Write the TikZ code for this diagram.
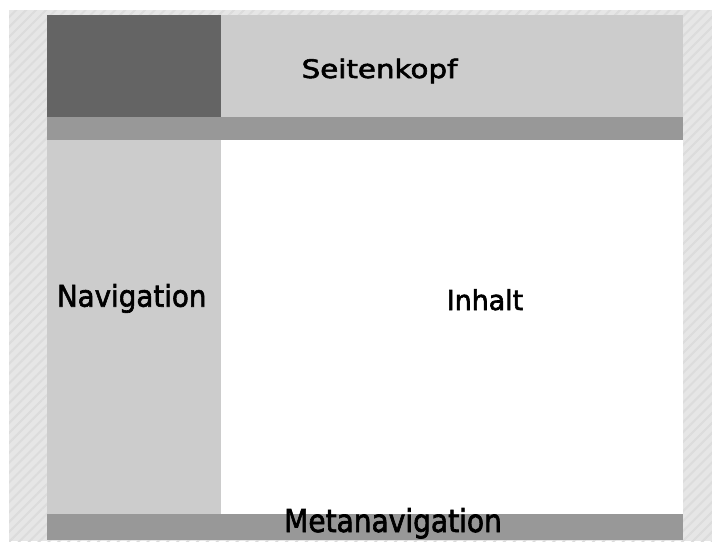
\documentclass[tikz,border=0pt]{standalone}
\usepackage{fontspec}
\newfontfamily\boxfont[FakeBold=2.2]{DejaVu Sans}
\usetikzlibrary{patterns.meta}
\definecolor{dunkel}{HTML}{646464}
\definecolor{hell}{HTML}{CCCCCC}
\definecolor{balken}{HTML}{989898}
\definecolor{rand}{HTML}{E6E6E6}
\definecolor{streifen}{HTML}{DCDCDC}
\tikzset{label/.style = {anchor = base, inner sep = 0pt, font = \boxfont}}

\begin{document}
\begin{tikzpicture}[x = 1pt, y = -1pt]
\useasboundingbox (0,0) rectangle (712,541);
\fill [rand] (9,10) rectangle (712,541);
\fill [pattern = {Lines[angle = 45, distance = 7pt, line width = 2pt]}, pattern color = streifen] (9,10) rectangle (712,541);
\fill [dunkel] (47,15) rectangle (221,117);
\fill [hell] (221,15) rectangle (683,117);
\fill [balken] (47,117) rectangle (683,140);
\fill [hell] (47,140) rectangle (221,514);
\fill [white] (221,140) rectangle (683,514);
\fill [balken] (47,514) rectangle (683,540);
\node [label, font = \boxfont\fontsize{25.5}{25.5}\selectfont, xscale = 1.15] (kopf) at (379.5,78) {Seitenkopf};
\node [label, font = \boxfont\fontsize{29.8}{29.8}\selectfont, xscale = 0.93] (nav) at (131.7,306.7) {Navigation};
\node [label, font = \boxfont\fontsize{27.4}{27.4}\selectfont, xscale = 0.98] (inhalt) at (485,310) {Inhalt};
\node [label, font = \boxfont\fontsize{31.5}{31.5}\selectfont, xscale = 0.89] (meta) at (393,532) {Metanavigation};
\end{tikzpicture}
\end{document}
